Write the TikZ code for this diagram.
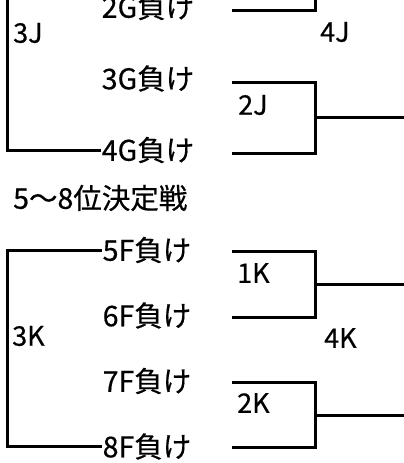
\documentclass[tikz,border=0pt]{standalone}
\usepackage{fontspec}
\setmainfont{Noto Sans CJK JP}[FakeBold=0.5]
\usepackage{tikz}
\usetikzlibrary{positioning}
\tikzstyle{lose} = [font=\fontsize{28.5}{31}\selectfont, inner sep=1pt]
\tikzstyle{tag} = [font=\fontsize{27}{30}\selectfont, anchor=west, inner sep=0pt]
\tikzstyle{line} = [line width=3pt]

\begin{document}
\begin{tikzpicture}[x=1pt, y=-1pt, node distance=71.5pt]
		\useasboundingbox (0,0) rectangle (404,463);
		\clip (0,0) rectangle (404,463);
		% 3-4 place bracket, top cut off
		\node[lose] (g2) at (148,7) {2G負け};
		\node[lose, below of = g2] (g3) {3G負け};
		\node[lose, below of = g3] (g4) {4G負け};
		\node[tag] (j3) at (13,33) {3J};
		\node[tag] (j4) at (320,32) {4J};
		\node[tag] (j2) at (238,105) {2J};
		\coordinate (t2) at (232,10);
		\coordinate (t3) at (232,82);
		\coordinate (t4) at (232,153);
		\coordinate (up) at (315,-5);
		\coordinate (left) at (7,-5);
		\coordinate (m2) at (315,117);
		\coordinate (e2) at (410,117);
		\draw[line] (t2) -| (up);
		\draw[line] (g4.west) -| (left);
		\draw[line] (t3) -| (m2) |- (t4);
		\draw[line] (m2) -- (e2);

		% 5-8 place
		\node[lose, anchor=west] (title) at (12,198) {5〜8位決定戦};
		\begin{scope}[node distance=65.5pt]
			\node[lose] (f5) at (147,250) {5F負け};
			\node[lose, below of = f5] (f6) {6F負け};
			\node[lose, below of = f6] (f7) {7F負け};
			\node[lose, below of = f7] (f8) {8F負け};
		\end{scope}
		\node[tag] (k1) at (237,273) {1K};
		\node[tag] (k2) at (237,403) {2K};
		\node[tag] (k3) at (12,336) {3K};
		\node[tag] (k4) at (324,338) {4K};
		\coordinate (s5) at (232,251);
		\coordinate (s6) at (232,317);
		\coordinate (s7) at (232,382);
		\coordinate (s8) at (232,447);
		\coordinate (n1) at (315,284);
		\coordinate (n2) at (315,415);
		\coordinate (x1) at (410,284);
		\coordinate (x2) at (410,415);
		\coordinate (side) at (7,335);
		\draw[line] (f5.west) -| (side) |- (f8.west);
		\draw[line] (s5) -| (n1) |- (s6);
		\draw[line] (s7) -| (n2) |- (s8);
		\draw[line] (n1) -- (x1);
		\draw[line] (n2) -- (x2);
	\end{tikzpicture}
\end{document}
